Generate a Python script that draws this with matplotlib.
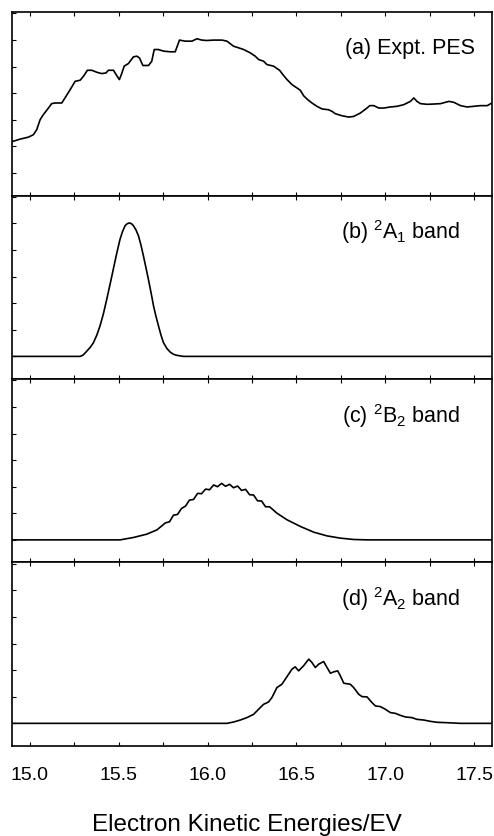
import matplotlib
matplotlib.use("Agg")
import matplotlib.pyplot as plt
import matplotlib.ticker as mticker

plt.rcParams['font.family'] = ['Liberation Sans', 'DejaVu Sans']
plt.rcParams['mathtext.fontset'] = 'custom'
plt.rcParams['mathtext.rm'] = 'Liberation Sans'
plt.rcParams['mathtext.default'] = 'regular'

# (a) experimental photoelectron spectrum
pes_ev = [14.902, 14.945, 14.992, 15.020, 15.039, 15.058, 15.076, 15.105, 15.123, 15.142,
          15.180, 15.198, 15.227, 15.255, 15.283, 15.302, 15.324, 15.349, 15.377, 15.405,
          15.429, 15.442, 15.471, 15.489, 15.504, 15.517, 15.531, 15.555, 15.583, 15.602,
          15.617, 15.636, 15.668, 15.686, 15.700, 15.724, 15.752, 15.790, 15.818, 15.842,
          15.874, 15.912, 15.940, 15.968, 15.996, 16.034, 16.081, 16.109, 16.146, 16.174,
          16.203, 16.240, 16.268, 16.287, 16.315, 16.334, 16.371, 16.405, 16.428, 16.447,
          16.475, 16.503, 16.522, 16.540, 16.559, 16.587, 16.615, 16.644, 16.681, 16.700,
          16.719, 16.756, 16.794, 16.822, 16.859, 16.897, 16.912, 16.935, 16.963, 16.991,
          17.028, 17.066, 17.103, 17.141, 17.160, 17.178, 17.197, 17.235, 17.272, 17.310,
          17.357, 17.385, 17.423, 17.460, 17.498, 17.535, 17.573, 17.606]
pes_int = [0.236, 0.254, 0.269, 0.287, 0.325, 0.400, 0.438, 0.488, 0.521, 0.526,
           0.526, 0.564, 0.626, 0.689, 0.697, 0.727, 0.772, 0.772, 0.757, 0.747,
           0.752, 0.772, 0.772, 0.732, 0.702, 0.747, 0.803, 0.823, 0.873, 0.878,
           0.865, 0.808, 0.808, 0.840, 0.928, 0.928, 0.916, 0.911, 0.911, 0.999,
           0.991, 0.991, 1.009, 0.999, 0.996, 0.999, 0.999, 0.991, 0.953, 0.941,
           0.928, 0.903, 0.878, 0.853, 0.840, 0.815, 0.803, 0.772, 0.732, 0.702,
           0.664, 0.639, 0.621, 0.581, 0.556, 0.526, 0.501, 0.481, 0.475, 0.463,
           0.445, 0.430, 0.420, 0.425, 0.450, 0.488, 0.506, 0.506, 0.488, 0.488,
           0.496, 0.501, 0.513, 0.538, 0.564, 0.538, 0.521, 0.516, 0.518, 0.521,
           0.538, 0.531, 0.506, 0.496, 0.501, 0.506, 0.506, 0.531]

# (b) 2A1 band
a1_ev = [14.900, 15.283, 15.300, 15.321, 15.340, 15.358, 15.377, 15.395, 15.414, 15.433,
         15.452, 15.470, 15.489, 15.508, 15.522, 15.536, 15.548, 15.560, 15.572, 15.583,
         15.597, 15.611, 15.625, 15.639, 15.653, 15.667, 15.682, 15.696, 15.710, 15.724,
         15.738, 15.752, 15.771, 15.790, 15.808, 15.827, 15.865, 17.603]
a1_int = [0.0, 0.0, 0.010, 0.040, 0.068, 0.103, 0.160, 0.229, 0.320, 0.430,
          0.545, 0.657, 0.775, 0.883, 0.940, 0.983, 0.998, 1.004, 0.998, 0.983,
          0.952, 0.908, 0.840, 0.757, 0.670, 0.581, 0.480, 0.380, 0.300, 0.229,
          0.160, 0.103, 0.060, 0.032, 0.016, 0.008, 0.0, 0.0]

# (c) 2B2 band
b2_ev = [14.900, 15.508, 15.583, 15.658, 15.715, 15.763, 15.786, 15.808, 15.831, 15.853,
         15.876, 15.898, 15.921, 15.944, 15.966, 15.989, 16.011, 16.034, 16.056, 16.079,
         16.101, 16.124, 16.146, 16.169, 16.191, 16.214, 16.236, 16.259, 16.281, 16.304,
         16.326, 16.349, 16.390, 16.447, 16.522, 16.597, 16.672, 16.747, 16.822, 16.897, 17.603]
b2_int = [0.0, 0.0, 0.018, 0.043, 0.075, 0.128, 0.136, 0.186, 0.191, 0.236,
          0.254, 0.299, 0.304, 0.350, 0.347, 0.382, 0.377, 0.413, 0.400, 0.425,
          0.403, 0.418, 0.392, 0.405, 0.372, 0.380, 0.340, 0.337, 0.294, 0.292,
          0.249, 0.249, 0.201, 0.151, 0.101, 0.058, 0.030, 0.013, 0.003, 0.0, 0.0]

# (d) 2A2 band
a2_ev = [14.900, 16.109, 16.146, 16.184, 16.221, 16.259, 16.287, 16.315, 16.343, 16.362,
         16.390, 16.418, 16.447, 16.475, 16.493, 16.512, 16.540, 16.569, 16.587, 16.606,
         16.625, 16.653, 16.672, 16.691, 16.709, 16.732, 16.747, 16.766, 16.803, 16.822,
         16.850, 16.869, 16.897, 16.925, 16.944, 16.972, 17.000, 17.028, 17.057, 17.085,
         17.113, 17.150, 17.178, 17.216, 17.254, 17.291, 17.347, 17.423, 17.603]
a2_int = [0.0, 0.0, 0.010, 0.025, 0.043, 0.068, 0.106, 0.143, 0.161, 0.194,
          0.269, 0.294, 0.352, 0.408, 0.425, 0.395, 0.433, 0.483, 0.458, 0.420,
          0.445, 0.465, 0.420, 0.377, 0.387, 0.395, 0.357, 0.302, 0.294, 0.269,
          0.219, 0.201, 0.199, 0.156, 0.131, 0.126, 0.106, 0.081, 0.075, 0.060,
          0.048, 0.043, 0.030, 0.025, 0.015, 0.008, 0.005, 0.0, 0.0]

panels = [
    (pes_ev, pes_int, '(a) Expt. PES', 0.965),
    (a1_ev, a1_int, r'(b) $^2$A$_1$ band', 0.933),
    (b2_ev, b2_int, r'(c) $^2$B$_2$ band', 0.933),
    (a2_ev, a2_int, r'(d) $^2$A$_2$ band', 0.933),
]

fig, axes = plt.subplots(4, 1, figsize=(4.94, 8.36), dpi=100, sharex=True)
plt.subplots_adjust(left=0.0243, right=0.996, top=0.9856, bottom=0.1077, hspace=0)

for i, (ax, (xs, ys, label, tx)) in enumerate(zip(axes, panels)):
    ax.plot(xs, ys, color='black', lw=1.2)
    ax.set_xlim(14.9, 17.6)
    ax.set_ylim(-0.17, 1.21)
    ax.text(tx, 0.80, label, transform=ax.transAxes, ha='right', va='center', fontsize=15.5)
    ax.xaxis.set_major_locator(mticker.MultipleLocator(0.5))
    if i < 3:
        ax.xaxis.set_minor_locator(mticker.MultipleLocator(0.25))
    ax.yaxis.set_major_locator(mticker.MultipleLocator(0.2))
    ax.yaxis.set_major_formatter(mticker.NullFormatter())
    ax.tick_params(axis='both', which='both', direction='in', length=3, width=0.8,
                   top=True, bottom=True, left=True, right=False)
    for sp in ax.spines.values():
        sp.set_linewidth(1.2)

axes[-1].xaxis.set_major_formatter(mticker.FormatStrFormatter('%.1f'))
axes[-1].tick_params(axis='x', labelsize=14, pad=15)
axes[-1].set_xlabel('Electron Kinetic Energies/EV', fontsize=17.5, va='center')
axes[-1].xaxis.set_label_coords(0.49, -0.43)

plt.savefig('out.png', dpi=100)
